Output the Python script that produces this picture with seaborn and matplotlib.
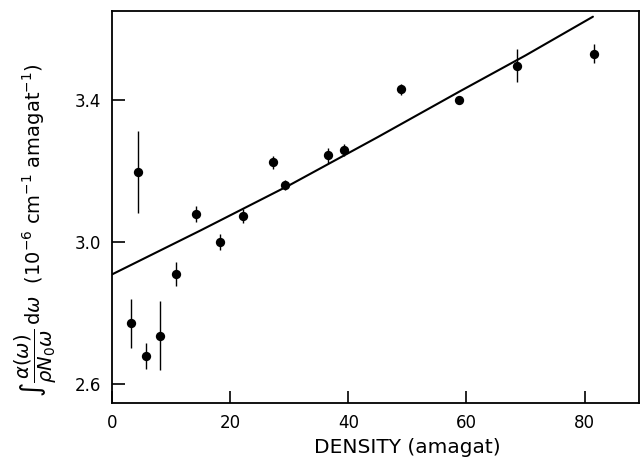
import numpy as np
import pandas as pd
import matplotlib
matplotlib.use("Agg")
import matplotlib.pyplot as plt
import seaborn as sns

density = [3.2, 4.45, 5.75, 8.1, 10.8, 14.3, 18.2, 22.1, 27.2, 29.3,
           36.5, 39.2, 48.9, 58.8, 68.5, 81.6]
integral = [2.771, 3.198, 2.680, 2.736, 2.909, 3.080, 3.000, 3.073, 3.225, 3.161,
            3.244, 3.259, 3.430, 3.400, 3.497, 3.531]
err = [0.068, 0.115, 0.037, 0.097, 0.034, 0.022, 0.022, 0.020, 0.018, 0.013,
       0.021, 0.016, 0.016, 0.012, 0.046, 0.026]

# theoretical curve
curve_x = [0, 15, 30.1, 45, 58.9, 70, 81.4]
curve_y = [2.909, 3.033, 3.161, 3.296, 3.425, 3.526, 3.635]

df = pd.DataFrame({"density": density, "integral": integral})
df_curve = pd.DataFrame({"x": curve_x, "y": curve_y})

sns.set_style("ticks")
plt.rcParams["font.family"] = ["DejaVu Sans"]

fig = plt.figure(figsize=(6.41, 4.61), dpi=100)
ax = fig.add_axes([0.1747, 0.1252, 0.8222, 0.8509])

ax.errorbar(density, integral, yerr=err, fmt="none", ecolor="black",
            elinewidth=1.0, capsize=0)
sns.scatterplot(data=df, x="density", y="integral", ax=ax, color="black",
                s=45, edgecolor="black", linewidth=0, zorder=3)
sns.lineplot(data=df_curve, x="x", y="y", ax=ax, color="black", linewidth=1.5)

ax.set_xlim(0, 89.2)
ax.set_ylim(2.546, 3.651)
ax.set_xticks([0, 20, 40, 60, 80])
ax.set_xticklabels(["0", "20", "40", "60", "80"])
ax.set_yticks([2.6, 3.0, 3.4])
ax.set_yticklabels(["2.6", "3.0", "3.4"])
ax.tick_params(axis="both", direction="in", length=9, width=1.2,
               labelsize=12, pad=8, colors="black")
for sp in ax.spines.values():
    sp.set_linewidth(1.3)
    sp.set_color("black")

ax.set_xlabel("DENSITY (amagat)", fontsize=14.5, va="center", color="black")
ax.xaxis.set_label_coords(0.56, -0.112)
ax.set_ylabel(r"$\int\dfrac{\alpha(\omega)}{\rho N_0\omega}\,\mathrm{d}\omega$  (10$^{-6}$ cm$^{-1}$ amagat$^{-1}$)",
              fontsize=14, va="center", color="black")
ax.yaxis.set_label_coords(-0.145, 0.44)

fig.savefig("out.png", dpi=100)
